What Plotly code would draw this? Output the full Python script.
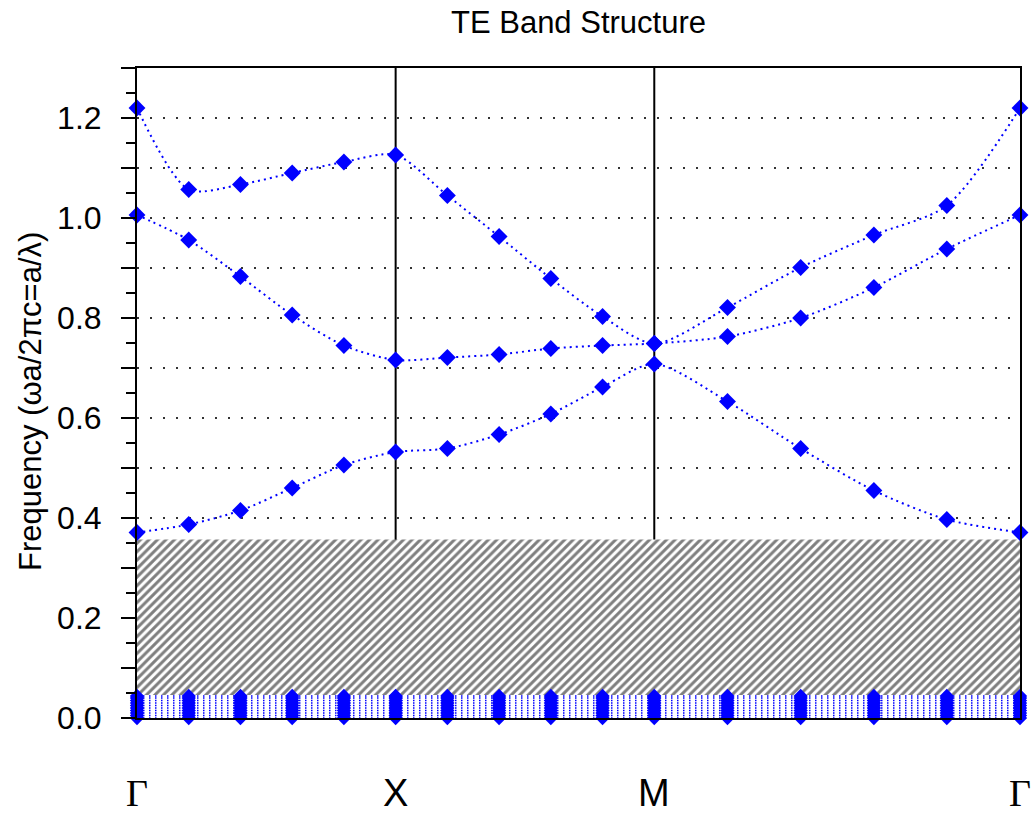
import plotly.graph_objects as go

# ---- data ----
k_path = [0.0, 0.2, 0.4, 0.6, 0.8, 1.0, 1.2, 1.4, 1.6, 1.8, 2.0,
          2.283, 2.566, 2.849, 3.131, 3.414]
k_labels = ["Γ", "X", "M", "Γ"]
k_label_pos = [0.0, 1.0, 2.0, 3.414]

band1 = [0.371, 0.387, 0.415, 0.460, 0.506, 0.532, 0.539, 0.567, 0.608, 0.662,
         0.708, 0.633, 0.539, 0.455, 0.397, 0.371]
band2 = [1.006, 0.956, 0.883, 0.806, 0.745, 0.716, 0.721, 0.727, 0.739, 0.745,
         0.749, 0.763, 0.800, 0.861, 0.938, 1.006]
band3 = [1.220, 1.057, 1.067, 1.090, 1.112, 1.126, 1.045, 0.963, 0.879, 0.803,
         0.749, 0.821, 0.901, 0.966, 1.025, 1.220]

# near-zero (spurious) bands stacked at the bottom
low_band_levels = [0.000, 0.005, 0.010, 0.015, 0.020, 0.025,
                   0.030, 0.035, 0.040, 0.044]

gap_bottom = 0.046
gap_top = 0.357

y_range = [0.0, 1.3]
y_major = [0.0, 0.1, 0.2, 0.3, 0.4, 0.5, 0.6, 0.7, 0.8, 0.9, 1.0, 1.1, 1.2, 1.3]
y_major_text = ["0.0", "", "0.2", "", "0.4", "", "0.6", "", "0.8", "", "1.0", "", "1.2", ""]
y_minor = [0.05, 0.15, 0.25, 0.35, 0.45, 0.55, 0.65, 0.75, 0.85, 0.95, 1.05, 1.15, 1.25]

BLUE = "#0000ff"
kmax = k_path[-1]

fig = go.Figure()

# band gap (hatched)
fig.add_trace(go.Scatter(
    x=[0, kmax, kmax, 0, 0],
    y=[gap_bottom, gap_bottom, gap_top, gap_top, gap_bottom],
    mode="lines", fill="toself", line=dict(width=0),
    fillcolor="white",
    fillpattern=dict(shape="/", size=6, solidity=0.5,
                     fgcolor="#000000", bgcolor="white"),
    hoverinfo="skip", showlegend=False))

# near-zero bands
for lv in low_band_levels:
    fig.add_trace(go.Scatter(
        x=k_path, y=[lv] * len(k_path), mode="lines+markers",
        line=dict(color=BLUE, width=1.5, dash="1.5px,4.5px"),
        marker=dict(symbol="diamond", size=11, color=BLUE),
        cliponaxis=False, showlegend=False))

# main bands
for b in (band1, band2, band3):
    fig.add_trace(go.Scatter(
        x=k_path, y=b, mode="lines+markers",
        line=dict(color=BLUE, width=2, dash="2px,4px", shape="spline", smoothing=0.8),
        marker=dict(symbol="diamond", size=13, color=BLUE),
        cliponaxis=False, showlegend=False))

# vertical symmetry-point lines
for xv in k_label_pos[1:-1]:
    fig.add_shape(type="line", x0=xv, x1=xv, y0=y_range[0], y1=y_range[1],
                  xref="x", yref="y", layer="below",
                  line=dict(color="black", width=2))

# symmetry-point labels
for lab, xv in zip(k_labels, k_label_pos):
    fam = "Liberation Serif, Times New Roman, serif" if lab == "Γ" else "Liberation Sans, Arial, sans-serif"
    fig.add_annotation(x=xv, xref="x", y=-0.1154, yref="paper",
                       text=lab, showarrow=False, xanchor="center", yanchor="middle",
                       font=dict(family=fam, size=38, color="black"))

# y-axis title
fig.add_annotation(x=(30 - 137) / 883, xref="paper", y=(718 - 402) / 650, yref="paper",
                   text="Frequency (ωa/2πc=a/λ)", textangle=-90, showarrow=False,
                   xanchor="center", yanchor="middle",
                   font=dict(family="Liberation Sans, Arial, sans-serif", size=31, color="black"))

fig.update_layout(
    width=1035, height=816,
    margin=dict(l=137, r=15, t=68, b=98),
    paper_bgcolor="white", plot_bgcolor="white",
    title=dict(text="TE Band Structure", x=(137 + 1020) / 2 / 1035, xanchor="center",
               y=1 - 22 / 816, yanchor="middle",
               font=dict(family="Liberation Sans, Arial, sans-serif", size=31, color="black")),
    xaxis=dict(range=[0, kmax], showgrid=False, zeroline=False, showticklabels=False,
               ticks="", showline=True, linecolor="black", linewidth=2, mirror=True),
    yaxis=dict(range=y_range, tickmode="array", tickvals=y_major, ticktext=y_major_text,
               ticks="outside", ticklen=14, tickwidth=2, tickcolor="black",
               showline=True, linecolor="black", linewidth=2, mirror=True,
               zeroline=False, showgrid=True, gridcolor="#333333", gridwidth=2,
               griddash="2px,11px", ticklabelstandoff=13,
               tickfont=dict(family="Liberation Sans, Arial, sans-serif", size=32, color="black"),
               minor=dict(tickmode="array", tickvals=y_minor, ticks="outside",
                          ticklen=9, tickwidth=2, tickcolor="black", showgrid=False)),
)

fig.write_html("out.html")
